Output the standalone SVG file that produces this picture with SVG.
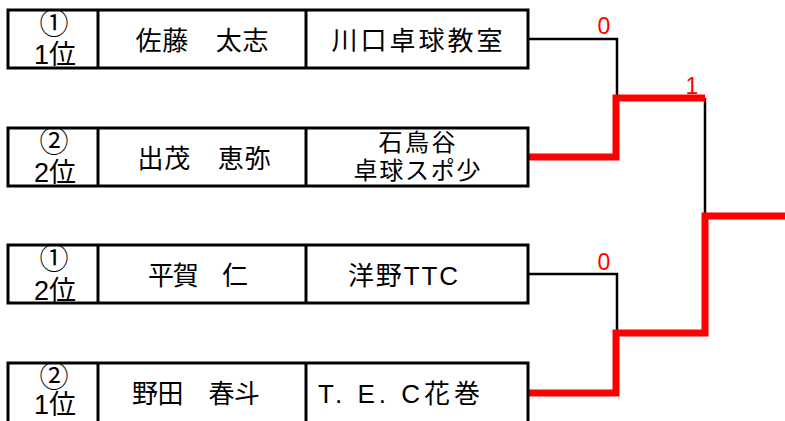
<svg xmlns="http://www.w3.org/2000/svg" width="785" height="421" viewBox="0 0 785 421">
<style>
.box{fill:#fff;stroke:#000;stroke-width:3}
.div{stroke:#000;stroke-width:3}
.t{font-family:"Liberation Sans","Noto Sans CJK JP",sans-serif;font-size:26px;fill:#000;text-anchor:middle}
.t2{font-family:"Liberation Sans","Noto Sans CJK JP",sans-serif;font-size:24px;fill:#000;text-anchor:middle}
.c{font-family:"Noto Sans CJK JP",sans-serif;font-size:29px;fill:#000;text-anchor:middle}
.s{font-family:"Liberation Sans","Noto Sans CJK JP",sans-serif;font-size:27px;fill:#000;text-anchor:middle}
.blk{fill:none;stroke:#000;stroke-width:2.5}
.red{fill:none;stroke:#f00;stroke-width:7}
.sc{font-family:"Liberation Sans",sans-serif;font-size:23px;fill:#f00;text-anchor:middle}
</style>
<rect width="785" height="421" fill="#fff"/>
<g id="connectors">
<polyline class="blk" points="528,39 617,39 617,98"/>
<polyline class="blk" points="705,98 705,216"/>
<polyline class="blk" points="528,274 617,274 617,333"/>
<polyline class="red" points="528,157 616,157 616,98 705,98"/>
<polyline class="red" points="528,393 616,393 616,333 705,333 705,216 785,216"/>
<text class="sc" x="604" y="34">0</text>
<text class="sc" x="692" y="94">1</text>
<text class="sc" x="604" y="270">0</text>
</g>
<g id="node1">
<rect class="box" x="8" y="10" width="520" height="58"/>
<line class="div" x1="98" y1="10" x2="98" y2="68"/>
<line class="div" x1="306" y1="10" x2="306" y2="68"/>
<text class="c" x="54" y="34">①</text>
<text class="s" x="55" y="64">1位</text>
<text class="t" x="202" y="50" textLength="133" lengthAdjust="spacing">佐藤　太志</text>
<text class="t" x="417" y="50" textLength="171" lengthAdjust="spacing">川口卓球教室</text>
</g>
<g id="node2">
<rect class="box" x="8" y="128" width="520" height="58"/>
<line class="div" x1="98" y1="128" x2="98" y2="186"/>
<line class="div" x1="306" y1="128" x2="306" y2="186"/>
<text class="c" x="54" y="152">②</text>
<text class="s" x="55" y="182">2位</text>
<text class="t" x="204" y="168" textLength="133" lengthAdjust="spacing">出茂　恵弥</text>
<text class="t2" x="417" y="151" textLength="77" lengthAdjust="spacing">石鳥谷</text>
<text class="t2" x="417" y="179" textLength="127" lengthAdjust="spacing">卓球スポ少</text>
</g>
<g id="node3">
<rect class="box" x="8" y="245" width="520" height="58"/>
<line class="div" x1="98" y1="245" x2="98" y2="303"/>
<line class="div" x1="306" y1="245" x2="306" y2="303"/>
<text class="c" x="54" y="269">①</text>
<text class="s" x="55" y="300">2位</text>
<text class="t" x="198" y="285" textLength="100" lengthAdjust="spacing">平賀　仁</text>
<text class="t" x="403" y="285" textLength="110" lengthAdjust="spacing">洋野TTC</text>
</g>
<g id="node4">
<rect class="box" x="8" y="363" width="520" height="60"/>
<line class="div" x1="98" y1="363" x2="98" y2="421"/>
<line class="div" x1="306" y1="363" x2="306" y2="421"/>
<text class="c" x="54" y="387">②</text>
<text class="s" x="55" y="414">1位</text>
<text class="t" x="196" y="403" textLength="128" lengthAdjust="spacing">野田　春斗</text>
<text class="t" x="399" y="403" textLength="162" lengthAdjust="spacing">T. E. C花巻</text>
</g>
</svg>
